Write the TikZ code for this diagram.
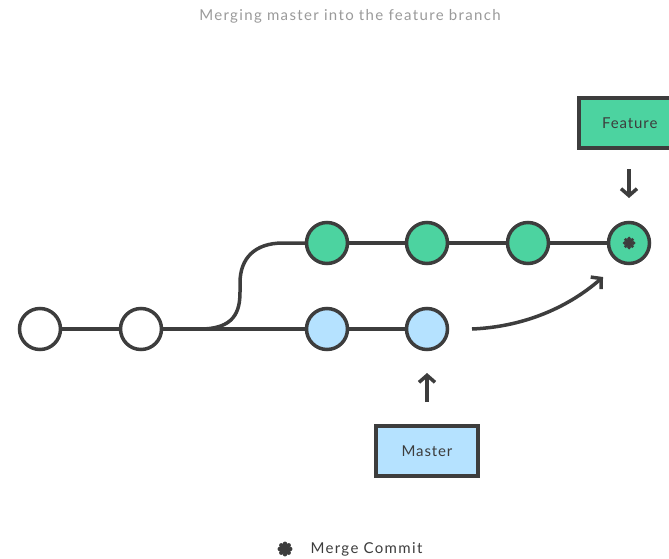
\documentclass[tikz,border=0pt]{standalone}
\usepackage{fontspec}
\setmainfont{Lato}
\newfontfamily\widefont[LetterSpace=9]{Lato}
\newfontfamily\boxfont[LetterSpace=6]{Lato}
\usetikzlibrary{arrows.meta}
\definecolor{dark}{HTML}{3D3D3D}
\definecolor{grn}{HTML}{4CD3A0}
\definecolor{blu}{HTML}{B5E2FF}
\definecolor{ttl}{HTML}{9A9A9A}
\tikzset{
  commit/.style={circle,draw=dark,line width=3.5pt,minimum size=41pt,inner sep=0pt},
  fcommit/.style={commit,fill=grn},
  mcommit/.style={commit,fill=blu},
  ecommit/.style={commit,fill=white},
  edge/.style={draw=dark,line width=3.5pt},
  ptr/.style={draw=dark,line width=3.5pt,-{Straight Barb[length=7pt,width=16pt,line width=3.5pt]}},
  branch/.style={draw=dark,line width=3.5pt,minimum width=102pt,minimum height=50pt,font=\boxfont\fontsize{15}{18}\selectfont,text=dark},
  mglyph/.pic={
    \fill[dark] (0,0) circle (4.3);
    \foreach \a in {0,45,...,315} \fill[dark] (\a:4.6) circle (1.9);
  },
}
\begin{document}
\begin{tikzpicture}[x=1pt,y=-1pt]
\useasboundingbox (0,0) rectangle (669,559);
\node[text=ttl,font=\widefont\fontsize{15}{16}\selectfont] (title) at (350,16) {Merging master into the feature branch};
\node[ecommit] (c1) at (40,329) {};
\node[ecommit] (c2) at (141,329) {};
\node[mcommit] (m1) at (327,329) {};
\node[mcommit] (m2) at (427,329) {};
\node[fcommit] (f1) at (327,243) {};
\node[fcommit] (f2) at (427,243) {};
\node[fcommit] (f3) at (528,243) {};
\node[fcommit] (f4) at (629,243) {};
\pic at (f4) {mglyph};
\coordinate (b0) at (176,329);
\coordinate (ms) at (472,329);
\coordinate (me) at (603,277);
\coordinate (fa) at (629,169);
\coordinate (fe) at (629,198);
\coordinate (ma) at (427,402);
\coordinate (mb) at (427,373);
\path[edge] (c1) -- (c2);
\path[edge] (c2) -- (m1);
\path[edge] (m1) -- (m2);
\path[edge] (f1) -- (f2);
\path[edge] (f2) -- (f3);
\path[edge] (f3) -- (f4);
\path[edge] (b0) -- (200,329) .. controls (234,329) and (240,312) .. (240,292) -- (240,283) .. controls (240,258) and (255,243) .. (283,243) -- (f1.west);
\path[ptr] (ms) .. controls (520,327) and (565,310) .. (me);
\node[branch,fill=grn,anchor=west] (feat) at (577,123) {Feature};
\node[branch,fill=blu] (mast) at (427,451) {Master};
\path[ptr] (fa) -- (fe);
\path[ptr] (ma) -- (mb);
\coordinate (leg) at (285,549);
\pic[scale=1.15] at (leg) {mglyph};
\node[font=\widefont\fontsize{15}{16}\selectfont,text=dark,anchor=west] (legt) at (307,549) {Merge Commit};
\end{tikzpicture}
\end{document}
